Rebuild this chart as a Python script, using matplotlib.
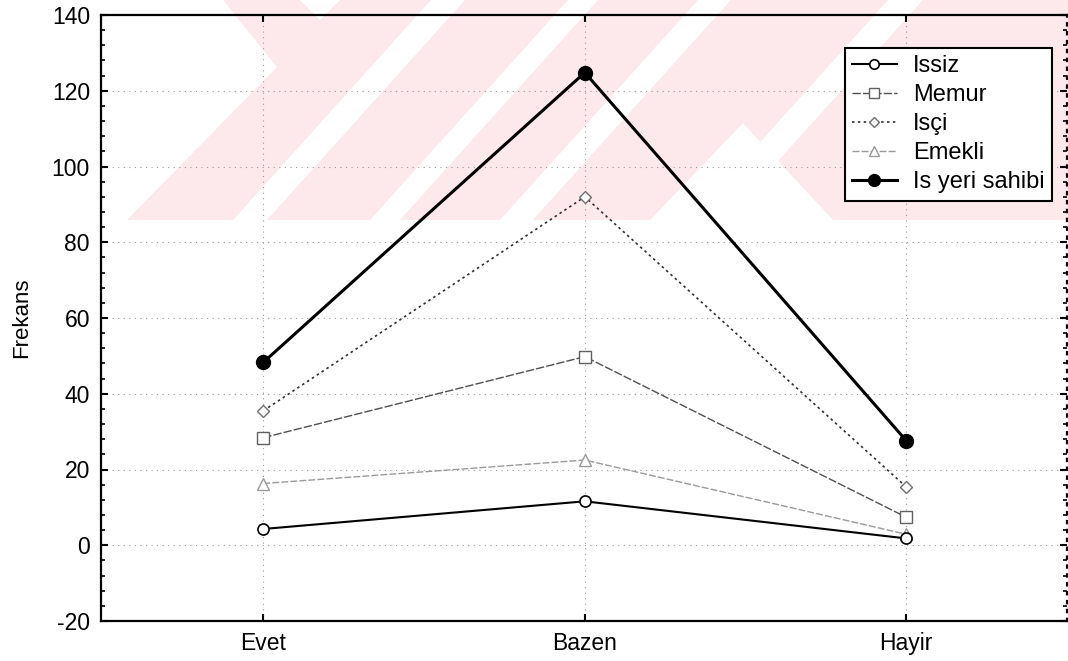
import matplotlib
matplotlib.use('Agg')
import matplotlib.pyplot as plt
from matplotlib import ticker
from matplotlib.patches import Polygon

plt.rcParams['font.family'] = ['Liberation Sans', 'DejaVu Sans']
plt.rcParams['axes.unicode_minus'] = False

# categories on x axis
kategoriler = ['Evet', 'Bazen', 'Hayir']

# frequencies
issiz = [4.3, 11.6, 1.8]
memur = [28.4, 49.8, 7.4]
isci = [35.5, 92.0, 15.4]
emekli = [16.3, 22.5, 2.9]
is_yeri_sahibi = [48.3, 124.8, 27.6]

seri_adlari = ['Issiz', 'Memur', 'Isçi', 'Emekli', 'Is yeri sahibi']

W, H = 1068, 661
fig = plt.figure(figsize=(W / 100, H / 100), dpi=100)

def px(pts):
    # pixel coords (y from top) -> figure fraction
    return [(x / W, 1 - y / H) for x, y in pts]

# faint pink watermark stripes behind the plot
pembe = '#fde8ec'
fig.patches.append(Polygon(px([(223, 0), (1068, 0), (1068, 220), (127, 220), (277, 67)]),
                           closed=True, transform=fig.transFigure, fc=pembe, ec='none', zorder=-2))
beyaz_parcalar = [
    [(300, 0), (340, 0), (320, 20)],
    [(233, 220), (267, 220), (465, 0), (431, 0)],
    [(370, 220), (400, 220), (598, 0), (568, 0)],
    [(500, 220), (533, 220), (731, 0), (698, 0)],
    [(650, 220), (743, 123), (833, 220)],
    [(690, 220), (725, 220), (923, 0), (888, 0)],
]
for p in beyaz_parcalar:
    fig.patches.append(Polygon(px(p), closed=True, transform=fig.transFigure,
                               fc='white', ec='none', zorder=-1))

ax = fig.add_axes([101 / W, 1 - 621 / H, (1067 - 101) / W, (621 - 15) / H])
ax.set_facecolor('none')
ax.set_zorder(1)

xpos = list(range(len(kategoriler)))

ax.plot(xpos, issiz, '-', color='black', lw=1.5, marker='o', ms=8,
        mfc='white', mec='black', mew=1.2, label=seri_adlari[0], zorder=5)
ax.plot(xpos, memur, color='#505050', lw=1.0, ls=(0, (6, 1.5)), marker='s', ms=8.5,
        mfc='white', mec='#606060', mew=1.0, label=seri_adlari[1], zorder=4)
ax.plot(xpos, isci, color='#303030', lw=1.2, ls=(0, (1.5, 2)), marker='D', ms=6.5,
        mfc='white', mec='#707070', mew=1.0, label=seri_adlari[2], zorder=4)
ax.plot(xpos, emekli, color='#9a9a9a', lw=1.0, ls=(0, (5, 1.5)), marker='^', ms=8,
        mfc='white', mec='#9a9a9a', mew=1.0, label=seri_adlari[3], zorder=4)
ax.plot(xpos, is_yeri_sahibi, '-', color='black', lw=2.2, marker='o', ms=10,
        mfc='black', mec='black', label=seri_adlari[4], zorder=6)

ax.set_xlim(-0.505, 2.5)
ax.set_ylim(-20, 140)
ax.set_xticks(xpos)
ax.set_xticklabels(kategoriler)
ax.yaxis.set_major_locator(ticker.MultipleLocator(20))
ax.yaxis.set_minor_locator(ticker.MultipleLocator(4))

ax.grid(True, which='major', color='#9a9a9a', ls=(0, (1, 4)), lw=0.8)

ax.tick_params(axis='both', which='major', direction='in', length=5, width=1.5,
               labelsize=16.5, pad=8, top=True, right=True)
ax.tick_params(axis='y', which='minor', direction='in', length=3, width=1.2,
               right=True)
for s in ax.spines.values():
    s.set_linewidth(1.6)
ax.spines['right'].set_linestyle((0, (1, 3)))

ax.set_ylabel('Frekans', fontsize=16, labelpad=14)

leg = ax.legend(loc='upper right', bbox_to_anchor=(0.9845, 0.9455), borderaxespad=0,
                fontsize=17, frameon=True, fancybox=False, handlelength=1.9,
                handletextpad=0.7, labelspacing=0.3, borderpad=0.3, markerscale=0.85)
leg.get_frame().set_edgecolor('black')
leg.get_frame().set_linewidth(1.5)
leg.get_frame().set_facecolor('white')
leg.get_frame().set_alpha(1)

fig.savefig('out.png', dpi=100)
